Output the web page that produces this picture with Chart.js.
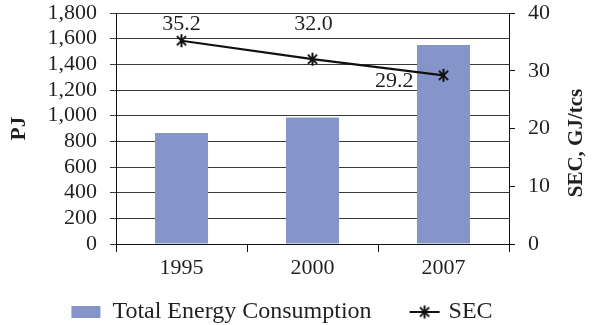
<!DOCTYPE html>
<html>
<head>
<meta charset="utf-8">
<script src="https://cdn.jsdelivr.net/npm/chart.js@4/dist/chart.umd.min.js"></script>
<style>
  html, body { margin: 0; padding: 0; background: #fff; }
  #wrap { width: 592px; height: 325px; }
</style>
</head>
<body>
<div id="wrap"><canvas id="chart" width="592" height="325"></canvas></div>
<script>
// dados
const years = ['1995', '2000', '2007'];
const energyPJ = [865, 985, 1550];      // Total Energy Consumption (PJ)
const secValues = [35.2, 32.0, 29.2];   // SEC (GJ/tcs)
const leftTicks = [0, 200, 400, 600, 800, 1000, 1200, 1400, 1600, 1800];
const rightTicks = [0, 10, 20, 30, 40];

// deslocamento dos rótulos do SEC em relação ao ponto [dx, dy, align]
const labelOffsets = [[0, -17, 'center'], [1, -35, 'center'], [-30, 6, 'right']];

const FONT = "'Liberation Serif', 'DejaVu Serif', serif";
const TXT = '#231f20';
const BAR = '#8595c9';

// marcador asterisco (vertical + X), como no Excel
function makeStar(size, lw) {
  const c = document.createElement('canvas');
  c.width = size; c.height = size;
  const g = c.getContext('2d');
  const m = size / 2, r = size / 2 - 1;
  g.strokeStyle = '#111';
  g.lineWidth = lw;
  g.beginPath();
  g.moveTo(m, m - r); g.lineTo(m, m + r);
  const d = r * Math.SQRT1_2;
  g.moveTo(m - d, m - d); g.lineTo(m + d, m + d);
  g.moveTo(m - d, m + d); g.lineTo(m + d, m - d);
  g.stroke();
  return c;
}
const starImg = makeStar(15, 2);

// sem folga extra para os rótulos: área do gráfico fixa
function noPad(s) { s.paddingTop = 0; s.paddingBottom = 0; }

// títulos dos eixos, rótulos do SEC e legenda
const extras = {
  id: 'extras',
  afterDatasetsDraw(chart) {
    const ctx = chart.ctx;
    const area = chart.chartArea;
    ctx.save();
    ctx.fillStyle = TXT;

    // rótulos de dados
    ctx.font = '22px ' + FONT;
    ctx.textBaseline = 'middle';
    const meta = chart.getDatasetMeta(1);
    meta.data.forEach((pt, i) => {
      const o = labelOffsets[i];
      ctx.textAlign = o[2];
      ctx.fillText(secValues[i].toFixed(1), pt.x + o[0], pt.y + o[1]);
    });

    // título do eixo esquerdo
    ctx.font = 'bold 21px ' + FONT;
    ctx.textAlign = 'center';
    ctx.save();
    ctx.translate(20, (area.top + area.bottom) / 2);
    ctx.rotate(-Math.PI / 2);
    ctx.fillText('PJ', 0, 0);
    ctx.restore();

    // título do eixo direito (lido de baixo para cima)
    ctx.save();
    ctx.translate(577, 143);
    ctx.rotate(-Math.PI / 2);
    ctx.fillText('SEC, GJ/tcs', 0, 0);
    ctx.restore();

    // legenda
    ctx.font = '24px ' + FONT;
    ctx.textAlign = 'left';
    const t1 = 'Total Energy Consumption', t2 = 'SEC';
    const w1 = ctx.measureText(t1).width, w2 = ctx.measureText(t2).width;
    const total = 29 + 12 + w1 + 38 + 30 + 9 + w2;
    let x = 282 - total / 2;
    const y = 312;
    ctx.fillStyle = BAR;
    ctx.fillRect(x, y - 6, 29, 12);
    x += 41;
    ctx.fillStyle = TXT;
    ctx.fillText(t1, x, y);
    x += w1 + 38;
    ctx.strokeStyle = '#111';
    ctx.lineWidth = 2;
    ctx.beginPath();
    ctx.moveTo(x, y); ctx.lineTo(x + 30, y);
    ctx.stroke();
    ctx.drawImage(starImg, x + 15 - 7.5, y - 7.5);
    x += 39;
    ctx.fillText(t2, x, y);
    ctx.restore();
  }
};

new Chart(document.getElementById('chart'), {
  data: {
    labels: years,
    datasets: [
      {
        type: 'bar',
        label: 'Total Energy Consumption',
        data: energyPJ,
        backgroundColor: BAR,
        yAxisID: 'y',
        order: 2,
        barPercentage: 0.405,
        categoryPercentage: 1
      },
      {
        type: 'line',
        label: 'SEC',
        data: secValues,
        borderColor: '#111',
        borderWidth: 2.2,
        pointStyle: starImg,
        pointRadius: 7,
        tension: 0,
        yAxisID: 'y1',
        order: 1
      }
    ]
  },
  options: {
    responsive: false,
    animation: false,
    layout: { padding: { top: 13, left: 0, right: 0, bottom: 0 } },
    plugins: { legend: { display: false }, tooltip: { enabled: false }, title: { display: false } },
    scales: {
      x: {
        afterFit(s) { s.height = 81; s.paddingLeft = 0; s.paddingRight = 0; },
        grid: { offset: true, drawOnChartArea: false, tickLength: 8, color: '#111' },
        border: { color: '#111' },
        ticks: { color: TXT, font: { family: FONT, size: 22 }, padding: 3 }
      },
      y: {
        position: 'left',
        min: 0, max: 1800,
        afterFit(s) { s.width = 116; noPad(s); },
        afterBuildTicks(s) { s.ticks = leftTicks.map(v => ({ value: v })); },
        grid: { color: '#3a3a3a', tickLength: 6 },
        border: { color: '#111' },
        ticks: {
          color: TXT, padding: 13, autoSkip: false,
          font: { family: FONT, size: 22 },
          callback: v => v.toLocaleString('en-US')
        }
      },
      y1: {
        position: 'right',
        min: 0, max: 40,
        afterFit(s) { s.width = 83; noPad(s); },
        afterBuildTicks(s) { s.ticks = rightTicks.map(v => ({ value: v })); },
        grid: { drawOnChartArea: false, tickLength: 6, color: '#111' },
        border: { color: '#111' },
        ticks: { color: TXT, padding: 13, autoSkip: false, font: { family: FONT, size: 22 } }
      }
    }
  },
  plugins: [extras]
});
</script>
</body>
</html>
